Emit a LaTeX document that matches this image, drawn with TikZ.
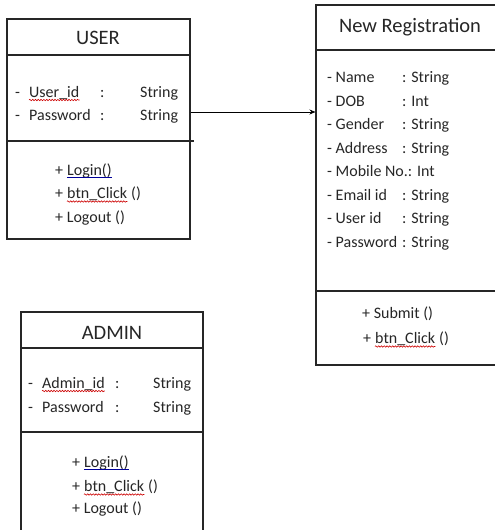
\documentclass[tikz,border=0pt]{standalone}
\usepackage{fontspec}
\setmainfont{Carlito}
\usetikzlibrary{arrows.meta,decorations.pathmorphing}
\newcommand\titlefnt{\fontsize{20.5}{24}\selectfont}
\newcommand\attrfnt{\fontsize{16}{19}\selectfont}
\begin{document}
\begin{tikzpicture}[x=1pt,y=-1pt,
  box/.style={draw=black!85,line width=1.1pt,rectangle,inner sep=0pt},
  sep/.style={draw=black!85,line width=1.1pt},
  title/.style={inner sep=0pt,anchor=base,font=\titlefnt,text=black!85},
  txt/.style={inner sep=0pt,anchor=base west,font=\attrfnt,text=black!85},
  after/.style={inner sep=0pt,anchor=base west,font=\attrfnt,text=black!85,xshift=3.6pt},
  squig/.style={draw=red!80!black,line width=0.6pt,decorate,decoration={snake,amplitude=0.7pt,segment length=2.8pt}},
  blueline/.style={draw=blue!60!black,line width=0.8pt},
  conn/.style={draw=black,line width=0.9pt,-{Stealth[length=6pt,width=5pt]}}]
\useasboundingbox (0,0) rectangle (495,530);

% ---------- USER ----------
\node[box,minimum width=183pt,minimum height=220pt] (user) at (98.5,129) {};
\draw[sep] (user.west |- 0,55) -- (user.east |- 0,55);
\draw[sep] (user.west |- 0,141) -- ([xshift=3pt]user.east |- 0,141);
\node[title] (usert) at (98,44) {USER};
\node[txt] (ud1) at (15,97) {-};
\node[txt] (ua1) at (29,97) {User\_id};
\node[txt] (uc1) at (100,97) {:};
\node[txt] (us1) at (140,97) {String};
\node[txt] (ud2) at (15,120) {-};
\node[txt] (ua2) at (29,120) {Password};
\node[txt] (uc2) at (100,120) {:};
\node[txt] (us2) at (140,120) {String};
\draw[squig] ([yshift=-3pt]ua1.base west) -- ([yshift=-3pt]ua1.base east);
\node[txt] (um1a) at (55,175) {+};
\node[after] (um1b) at (um1a.base east) {Login()};
\draw[blueline] ([yshift=-2.5pt]um1b.base west) -- ([yshift=-2.5pt]um1b.base east);
\node[txt] (um2a) at (55,198) {+};
\node[after] (um2b) at (um2a.base east) {btn\_Click};
\node[after] (um2c) at (um2b.base east) {()};
\draw[squig] ([yshift=-3.5pt]um2b.base west) -- ([yshift=-3.5pt]um2b.base east);
\node[txt] (um3) at (55,222) {+ Logout ()};

% ---------- NEW REGISTRATION ----------
\node[box,minimum width=184pt,minimum height=360pt] (reg) at (408,185) {};
\draw[sep] (reg.west |- 0,50) -- (reg.east |- 0,50);
\draw[sep] (reg.west |- 0,291) -- (reg.east |- 0,291);
\node[title] (regt) at (410,32) {New Registration};
\foreach \n/\a/\t [count=\i from 0] in {r1/Name/String,r2/DOB/Int,r3/Gender/String,r4/Address/String,r6/Email id/String,r7/User id/String,r8/Password/String}{
  \pgfmathsetmacro\rowi{\i<4 ? \i : \i+1}
  \node[txt] (\n a) at (327,{82.5+23.5*\rowi}) {- \a};
  \node[txt] (\n b) at (402,{82.5+23.5*\rowi}) {: \t};
}
\node[txt] (r5a) at (327,{82.5+23.5*4}) {- Mobile No.: Int};
\node[txt] (rm1) at (362,318) {+ Submit ()};
\node[txt] (rm2a) at (363,343) {+};
\node[after] (rm2b) at (rm2a.base east) {btn\_Click};
\node[after] (rm2c) at (rm2b.base east) {()};
\draw[squig] ([yshift=-3.5pt]rm2b.base west) -- ([yshift=-3.5pt]rm2b.base east);

% ---------- ADMIN ----------
\node[box,minimum width=182pt,minimum height=240pt] (admin) at (112,432) {};
\draw[sep] (admin.west |- 0,348) -- (admin.east |- 0,348);
\draw[sep] (admin.west |- 0,432) -- (admin.east |- 0,432);
\node[title] (admint) at (112,339) {ADMIN};
\node[txt] (ad1) at (28,388) {-};
\node[txt] (aa1) at (42,388) {Admin\_id};
\node[txt] (ac1) at (115,388) {:};
\node[txt] (as1) at (153,388) {String};
\node[txt] (ad2) at (28,412) {-};
\node[txt] (aa2) at (42,412) {Password};
\node[txt] (ac2) at (115,412) {:};
\node[txt] (as2) at (153,412) {String};
\draw[squig] ([yshift=-3pt]aa1.base west) -- ([yshift=-3pt]aa1.base east);
\node[txt] (am1a) at (72,467) {+};
\node[after] (am1b) at (am1a.base east) {Login()};
\draw[blueline] ([yshift=-2.5pt]am1b.base west) -- ([yshift=-2.5pt]am1b.base east);
\node[txt] (am2a) at (72,491) {+};
\node[after] (am2b) at (am2a.base east) {btn\_Click};
\node[after] (am2c) at (am2b.base east) {()};
\draw[squig] ([yshift=-3.5pt]am2b.base west) -- ([yshift=-3.5pt]am2b.base east);
\node[txt] (am3) at (72,513) {+ Logout ()};

% ---------- connector ----------
\draw[conn] ([yshift=17pt]user.east) -- ([yshift=17pt]user.east -| reg.west);
\end{tikzpicture}
\end{document}
